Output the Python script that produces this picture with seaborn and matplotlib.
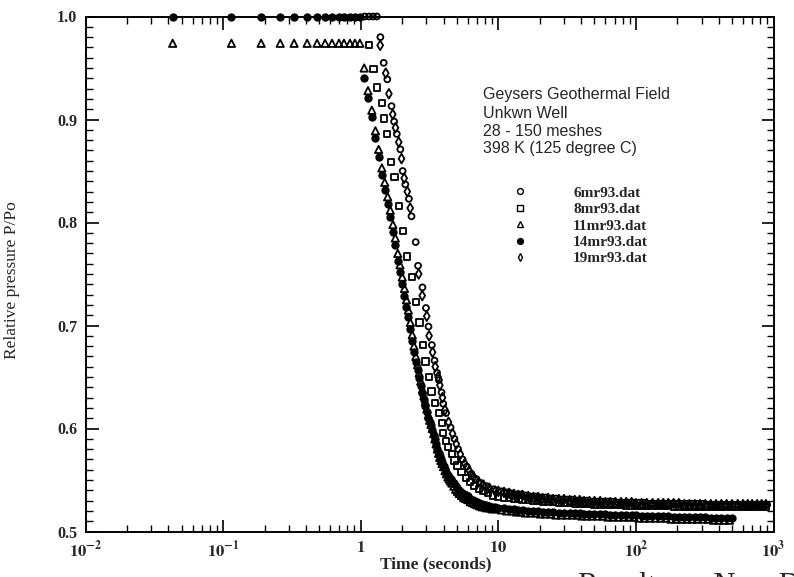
import numpy as np
import pandas as pd
import matplotlib
matplotlib.use("Agg")
import matplotlib.pyplot as plt
import seaborn as sns
from matplotlib.lines import Line2D
from matplotlib.ticker import FixedLocator, FixedFormatter, LogLocator, MultipleLocator, NullFormatter

# ---------------- data ----------------
files = ["6mr93.dat", "8mr93.dat", "11mr93.dat", "14mr93.dat", "19mr93.dat"]

# early flat part (shared sampling times)
t_flat = [0.043, 0.115, 0.189, 0.26, 0.328, 0.408, 0.482, 0.551, 0.619, 0.695,
          0.756, 0.835, 0.908, 0.986]
p_flat_14 = [1.0, 1.0, 1.0, 1.0, 1.0, 1.0, 1.0, 1.0, 1.0, 1.0, 1.0, 1.0, 1.0, 1.0]
p_flat_11 = [0.974, 0.974, 0.974, 0.974, 0.974, 0.974, 0.974, 0.974, 0.974, 0.974,
             0.974, 0.974, 0.974, 0.974]

# drop, left branch (14mr93 and 11mr93 share sampling)
t_drop_left = [1.06, 1.13, 1.205, 1.28, 1.35, 1.425, 1.495, 1.57, 1.64, 1.715,
               1.785, 1.86, 1.93, 2.005, 2.08, 2.15, 2.22, 2.295, 2.37, 2.44,
               2.515, 2.59, 2.66, 2.73, 2.81, 2.88, 2.95, 3.025, 3.10, 3.17,
               3.24, 3.315, 3.39, 3.46, 3.535, 3.61, 3.68, 3.75, 3.825, 3.90,
               4.0, 4.1, 4.2, 4.3, 4.4, 4.5, 4.6, 4.75, 4.9, 5.05,
               5.2, 5.4, 5.6, 5.8, 6.0, 6.25, 6.5, 6.75, 7.0, 7.3,
               7.6, 7.9, 8.2, 8.6, 9.0, 9.5]
p_drop_14 = [0.940, 0.921, 0.902, 0.882, 0.864, 0.846, 0.832, 0.818, 0.805, 0.791,
             0.778, 0.763, 0.752, 0.740, 0.729, 0.718, 0.708, 0.697, 0.685, 0.674,
             0.665, 0.657, 0.649, 0.641, 0.634, 0.628, 0.622, 0.616, 0.610, 0.606,
             0.603, 0.599, 0.594, 0.590, 0.585, 0.580, 0.576, 0.573, 0.570, 0.567,
             0.564, 0.561, 0.558, 0.555, 0.553, 0.551, 0.549, 0.547, 0.544, 0.542,
             0.540, 0.538, 0.5365, 0.535, 0.534, 0.532, 0.531, 0.530, 0.529, 0.528,
             0.527, 0.526, 0.526, 0.525, 0.524, 0.524]
p_drop_11 = [0.950, 0.928, 0.909, 0.889, 0.871, 0.853, 0.839, 0.825, 0.812, 0.798,
             0.785, 0.770, 0.759, 0.747, 0.736, 0.725, 0.715, 0.703, 0.691, 0.680,
             0.670, 0.662, 0.654, 0.646, 0.638, 0.632, 0.626, 0.619, 0.613, 0.608,
             0.604, 0.600, 0.595, 0.590, 0.585, 0.580, 0.576, 0.572, 0.569, 0.566,
             0.563, 0.559, 0.556, 0.553, 0.551, 0.549, 0.547, 0.544, 0.541, 0.539,
             0.537, 0.535, 0.533, 0.532, 0.531, 0.529, 0.528, 0.527, 0.526, 0.525,
             0.524, 0.524, 0.523, 0.523, 0.522, 0.522]

# drop, 8mr93 (middle branch)
t_drop_8 = [1.154, 1.24, 1.315, 1.419, 1.483, 1.549, 1.661, 1.762, 1.89, 2.032,
            2.183, 2.35, 2.529, 2.679, 2.833, 2.954, 3.136, 3.273, 3.483, 3.706,
            3.875, 3.99, 4.19, 4.31, 4.59, 4.81, 5.06, 5.4, 5.8, 6.2,
            6.7, 7.2, 7.8, 8.4, 9.1]
p_drop_8 = [0.972, 0.949, 0.931, 0.916, 0.901, 0.886, 0.859, 0.844, 0.816, 0.792,
            0.767, 0.747, 0.723, 0.703, 0.681, 0.665, 0.650, 0.636, 0.625, 0.615,
            0.605, 0.596, 0.588, 0.582, 0.575, 0.569, 0.564, 0.558, 0.552, 0.548,
            0.544, 0.541, 0.539, 0.537, 0.535]

# drop, 6mr93 (right branch)
t_drop_6 = [1.07, 1.15, 1.23, 1.31, 1.39, 1.469, 1.561, 1.675, 1.749, 1.829,
            1.942, 2.018, 2.11, 2.24, 2.34, 2.51, 2.61, 2.81, 2.98, 3.11,
            3.29, 3.44, 3.59, 3.70, 3.87, 3.98, 4.17, 4.5, 4.8, 5.1,
            5.5, 5.9, 6.37, 6.9, 7.5, 8.2, 9.27]
p_drop_6 = [1.0, 1.0, 1.0, 1.0, 0.980, 0.955, 0.939, 0.913, 0.898, 0.886,
            0.871, 0.850, 0.837, 0.823, 0.806, 0.781, 0.758, 0.737, 0.717, 0.699,
            0.681, 0.666, 0.654, 0.647, 0.635, 0.624, 0.615, 0.601, 0.590, 0.580,
            0.570, 0.563, 0.556, 0.551, 0.547, 0.544, 0.541]

# drop, 19mr93 (right branch)
t_drop_19 = [1.386, 1.52, 1.603, 1.71, 1.79, 1.89, 1.98, 2.07, 2.18, 2.29,
             2.64, 2.80, 3.02, 3.14, 3.33, 3.48, 3.65, 3.76, 3.93, 4.1,
             4.35, 4.65, 4.95, 5.3, 5.7, 6.15, 6.6, 7.2, 7.8, 8.6, 9.5]
p_drop_19 = [0.972, 0.945, 0.925, 0.905, 0.892, 0.878, 0.862, 0.843, 0.830, 0.814,
             0.750, 0.729, 0.709, 0.690, 0.674, 0.660, 0.650, 0.642, 0.630, 0.618,
             0.606, 0.595, 0.585, 0.575, 0.566, 0.559, 0.553, 0.548, 0.545, 0.542,
             0.539]

# long-time plateau sampling
t_tail_a = [10, 11, 12, 13, 14, 15, 16.5, 18, 19.5, 21,
            23, 25, 27.5, 30, 33, 36, 39, 42, 46, 50,
            55, 60, 65, 71, 78, 85, 93, 100, 110, 120,
            132, 145, 158, 172, 188, 205, 225, 245, 268, 292,
            320, 350, 382, 418, 456, 500]
t_tail_b = [10.5, 11.5, 12.5, 13.5, 14.5, 15.7, 17.2, 18.7, 20.2, 22,
            24, 26.2, 28.7, 31.5, 34.5, 37.5, 40.5, 44, 48, 52.5,
            57.5, 62.5, 68, 74.5, 81.5, 89, 96.5, 105, 115, 126,
            138, 151, 165, 180, 196, 215, 235, 256, 280, 306,
            335, 366, 400, 437, 478]
t_ext_a = [550, 600, 650, 700, 760, 820, 880]
t_ext_b = [525, 575, 625, 675, 730, 790, 850, 900]

p_tail_14 = [0.523, 0.523, 0.522, 0.522, 0.521, 0.521, 0.520, 0.520, 0.520, 0.519,
             0.519, 0.519, 0.518, 0.518, 0.518, 0.518, 0.518, 0.517, 0.517, 0.517,
             0.517, 0.517, 0.516, 0.516, 0.516, 0.516, 0.516, 0.516, 0.515, 0.515,
             0.515, 0.515, 0.515, 0.515, 0.514, 0.514, 0.514, 0.514, 0.514, 0.514,
             0.514, 0.513, 0.513, 0.513, 0.513, 0.513]
p_tail_11 = [0.521, 0.520, 0.520, 0.519, 0.519, 0.518, 0.518, 0.518, 0.517, 0.517,
             0.517, 0.516, 0.516, 0.516, 0.516, 0.516, 0.515, 0.515, 0.515, 0.515,
             0.515, 0.514, 0.514, 0.514, 0.514, 0.514, 0.514, 0.513, 0.513, 0.513,
             0.513, 0.513, 0.513, 0.512, 0.512, 0.512, 0.512, 0.512, 0.512, 0.512,
             0.512, 0.511, 0.511, 0.511, 0.511]
p_tail_6 = [0.539, 0.538, 0.537, 0.536, 0.536, 0.535, 0.534, 0.534, 0.533, 0.533,
            0.532, 0.532, 0.531, 0.531, 0.531, 0.530, 0.530, 0.530, 0.529, 0.529,
            0.529, 0.529, 0.529, 0.528, 0.528, 0.528, 0.528, 0.528, 0.528, 0.527,
            0.527, 0.527, 0.527, 0.527, 0.527, 0.527, 0.527, 0.527, 0.527, 0.527,
            0.526, 0.526, 0.526, 0.526, 0.526, 0.526, 0.526, 0.526, 0.526, 0.526,
            0.526, 0.526, 0.526]
p_tail_19 = [0.539, 0.538, 0.537, 0.536, 0.535, 0.535, 0.534, 0.533, 0.533, 0.532,
             0.532, 0.531, 0.531, 0.531, 0.530, 0.530, 0.530, 0.529, 0.529, 0.529,
             0.529, 0.528, 0.528, 0.528, 0.528, 0.528, 0.528, 0.527, 0.527, 0.527,
             0.527, 0.527, 0.527, 0.527, 0.527, 0.527, 0.526, 0.526, 0.526, 0.526,
             0.526, 0.526, 0.526, 0.526, 0.526, 0.526, 0.526, 0.526, 0.526, 0.526,
             0.526, 0.526, 0.526]
p_tail_8 = [0.534, 0.533, 0.533, 0.532, 0.532, 0.531, 0.531, 0.530, 0.530, 0.529,
            0.529, 0.529, 0.528, 0.528, 0.528, 0.527, 0.527, 0.527, 0.527, 0.526,
            0.526, 0.526, 0.526, 0.526, 0.526, 0.525, 0.525, 0.525, 0.525, 0.525,
            0.525, 0.525, 0.525, 0.525, 0.524, 0.524, 0.524, 0.524, 0.524, 0.524,
            0.524, 0.524, 0.524, 0.524, 0.524, 0.524, 0.524, 0.524, 0.524, 0.524,
            0.524, 0.524, 0.524]

x_tick_vals = [0.01, 0.1, 1, 10, 100, 1000]
x_tick_text = [r"$\mathbf{10^{-2}}$", r"$\mathbf{10^{-1}}$", r"$\mathbf{1}$",
               r"$\mathbf{10}$", r"$\mathbf{10^{2}}$", r"$\mathbf{10^{3}}$"]
y_tick_vals = [0.5, 0.6, 0.7, 0.8, 0.9, 1.0]
y_tick_text = ["0.5", "0.6", "0.7", "0.8", "0.9", "1.0"]

info_lines = ["Geysers Geothermal Field", "Unkwn Well", "28 - 150 meshes",
              "398 K (125 degree C)"]

# ---------------- assemble ----------------
series = {
    "6mr93.dat": (t_drop_6 + t_tail_b + t_ext_b, p_drop_6 + p_tail_6),
    "8mr93.dat": (t_drop_8 + t_tail_a + t_ext_a, p_drop_8 + p_tail_8),
    "11mr93.dat": (t_flat + t_drop_left + t_tail_b, p_flat_11 + p_drop_11 + p_tail_11),
    "14mr93.dat": (t_flat + t_drop_left + t_tail_a, p_flat_14 + p_drop_14 + p_tail_14),
    "19mr93.dat": (t_drop_19 + t_tail_a + t_ext_a, p_drop_19 + p_tail_19),
}
frames = []
for name, (tt, pp) in series.items():
    assert len(tt) == len(pp), (name, len(tt), len(pp))
    frames.append(pd.DataFrame({"file": name, "t": tt, "P": pp}))
df = pd.concat(frames, ignore_index=True)

styles = {
    "14mr93.dat": dict(marker="o", s=36, filled=True),
    "11mr93.dat": dict(marker="^", s=28, filled=False),
    "8mr93.dat": dict(marker="s", s=20, filled=False),
    "6mr93.dat": dict(marker="o", s=18, filled=False),
    "19mr93.dat": dict(marker="d", s=24, filled=False),
}

# ---------------- plot ----------------
sns.set_style("ticks")
plt.rcParams['font.family'] = ['Liberation Serif', 'DejaVu Serif']
plt.rcParams['mathtext.fontset'] = 'stix'

fig = plt.figure(figsize=(7.94, 5.77), dpi=100)
ax = fig.add_axes([85.5 / 794, 1 - 531.5 / 577, 688 / 794, 515 / 577])

for name in ["14mr93.dat", "11mr93.dat", "8mr93.dat", "19mr93.dat", "6mr93.dat"]:
    st = styles[name]
    sub = df[df["file"] == name]
    n_before = len(ax.collections)
    sns.scatterplot(data=sub, x="t", y="P", marker=st["marker"], s=st["s"],
                    color="black", linewidth=0 if st["filled"] else 1.3,
                    ax=ax, legend=False)
    coll = ax.collections[n_before]
    if not st["filled"]:
        coll.set_facecolor("none")
        coll.set_edgecolor("black")
        coll.set_linewidth(1.3)
    coll.set_clip_on(False)

ax.set_xscale("log")
ax.set_xlim(0.01, 1000)
ax.set_ylim(0.5, 1.0)

ax.xaxis.set_major_locator(FixedLocator(x_tick_vals))
ax.xaxis.set_major_formatter(FixedFormatter(x_tick_text))
ax.xaxis.set_minor_locator(LogLocator(base=10, subs=np.arange(2, 10) * 1.0, numticks=20))
ax.xaxis.set_minor_formatter(NullFormatter())
ax.yaxis.set_major_locator(FixedLocator(y_tick_vals))
ax.yaxis.set_major_formatter(FixedFormatter(y_tick_text))
ax.yaxis.set_minor_locator(MultipleLocator(0.01))

ax.tick_params(which="both", direction="in", top=True, right=True, color="black")
ax.tick_params(which="major", length=9, width=1.2, pad=6)
ax.tick_params(axis="x", which="major", labelsize=12)
ax.tick_params(axis="y", which="major", labelsize=11.5)
ax.tick_params(which="minor", length=5, width=1.0)
for lab in ax.get_yticklabels():
    lab.set_fontweight("bold")
for sp in ax.spines.values():
    sp.set_linewidth(1.4)
    sp.set_color("black")

ax.set_xlabel("Time (seconds)", fontsize=12.5, fontweight="bold")
ax.xaxis.set_label_coords((436 - 85.5) / 688, -(556 - 531.5) / 515)
ax.set_ylabel("Relative pressure P/Po", fontsize=12.5)
ax.yaxis.set_label_coords((20 - 85.5) / 688, (531.5 - 280) / 515)

# info text block
for i, line in enumerate(info_lines):
    fig.text(483 / 794, 1 - (95 + 18 * i) / 577, line, fontsize=11.5,
             family=["Liberation Sans", "DejaVu Sans"], va="center", ha="left")

# legend
handles = []
for name in files:
    st = styles[name]
    handles.append(Line2D([], [], ls="", marker=st["marker"], color="black",
                          markersize=4.2, markerfacecolor="black" if st["filled"] else "none",
                          markeredgewidth=1.0))
leg = ax.legend(handles, files, loc="upper left",
                bbox_to_anchor=((512 - 85.5) / 688, (531.5 - 186) / 515),
                frameon=False, fontsize=11, handlelength=1.0, handletextpad=3.0,
                labelspacing=0.18, borderaxespad=0, borderpad=0)
for txt in leg.get_texts():
    txt.set_fontweight("bold")

# caption of the page, cut by the lower edge of the scan
fig.text(578 / 794, 1 - 572 / 577, "Results on New D", fontsize=22,
         va="top", ha="left")

fig.savefig("out.png", dpi=100)
